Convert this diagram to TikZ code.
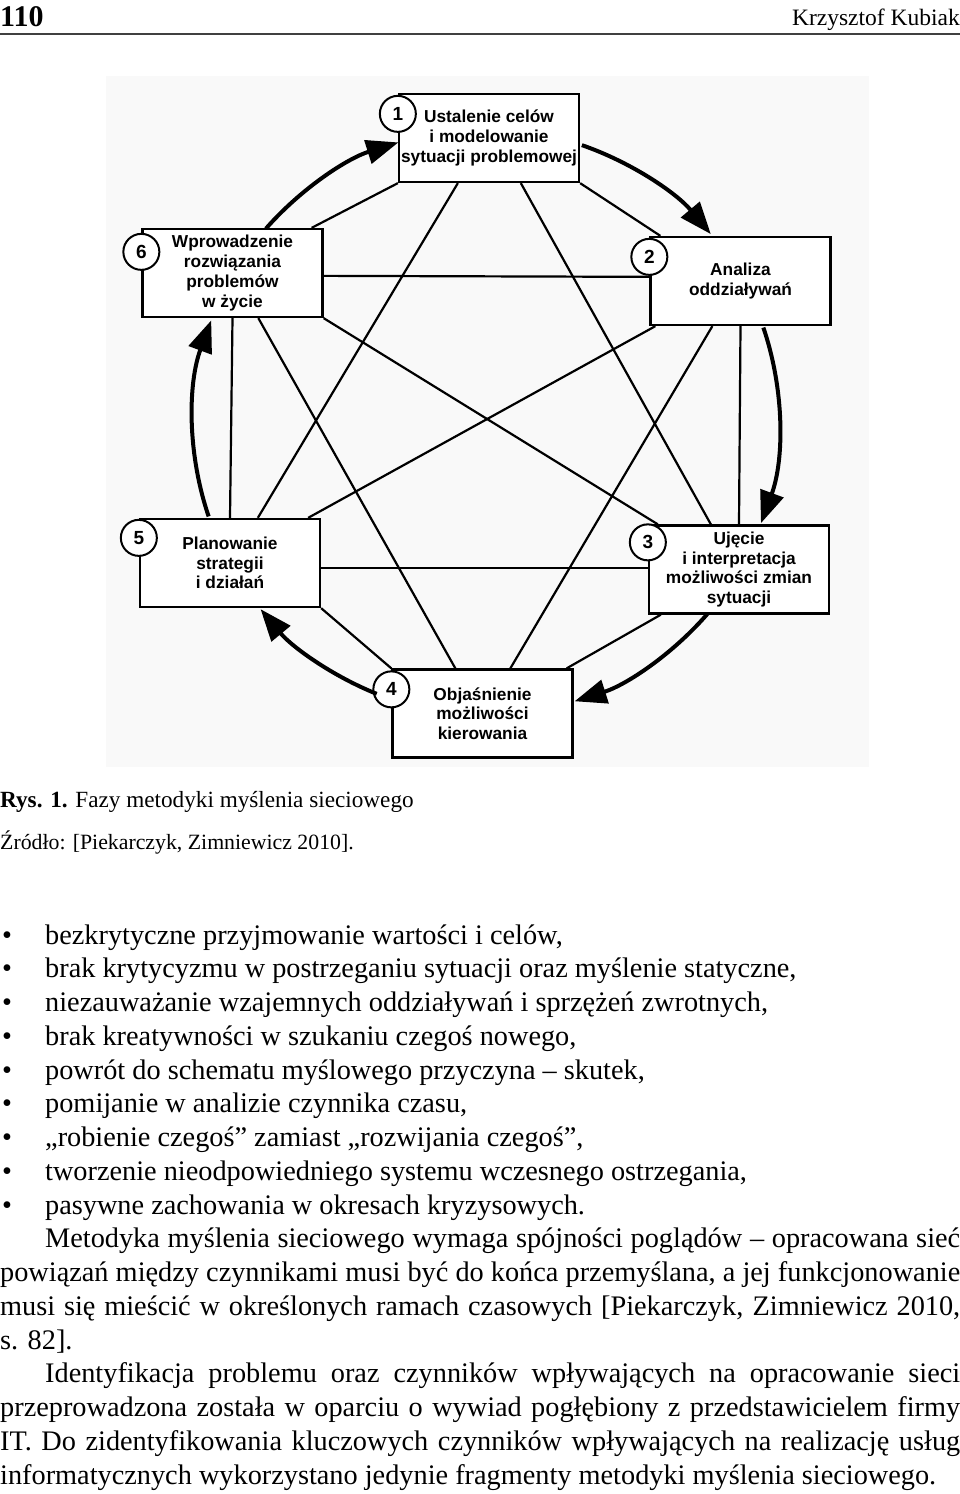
\documentclass[tikz,border=0pt]{standalone}
\usepackage{fontspec}
\setmainfont{Liberation Serif}
\newfontfamily\arialf{Liberation Sans}
\usetikzlibrary{arrows.meta,calc}
\newcommand\bitem[1]{\noindent\makebox[45pt][l]{\hspace{2pt}\textbullet}#1\par}
\begin{document}
\begin{tikzpicture}[x=1pt,y=-1pt,
  box/.style={draw, line width=2.3pt, fill=white, minimum width=180pt, minimum height=88pt, inner sep=0pt, align=center, font=\arialf\bfseries\fontsize{17.3}{19.7}\selectfont},
  num/.style={circle, draw, line width=2pt, fill=white, minimum size=36pt, inner sep=0pt, font=\arialf\bfseries\fontsize{19}{19}\selectfont},
  link/.style={line width=2.2pt},
  cyc/.style={line width=4pt, -{Triangle[length=32pt,width=24pt]}},
  txt/.style={anchor=base west, inner sep=0pt}
]
\useasboundingbox (0,0) rectangle (960,1494);
\fill[gray!5] (106,76) rectangle (869,767);
% header
\node[txt, font=\bfseries\fontsize{30}{30}\selectfont] (pg) at (0,26) {110};
\node[anchor=base east, inner sep=0pt, font=\fontsize{23.5}{26}\selectfont] (au) at (960,25) {Krzysztof Kubiak};
\coordinate (rl) at (0,33.5); \coordinate (rr) at (960,33.5);
\draw[line width=2pt, black!75] (rl) -- (rr);
% boxes
\node[box] (b1) at (489,138) {Ustalenie celów\\ i modelowanie\\ sytuacji problemowej};
\node[box] (b2) at (740.5,281) {Analiza\\ oddziaływań};
\node[box] (b3) at (739,569.5) {Ujęcie\\ i interpretacja\\ możliwości zmian\\ sytuacji};
\node[box] (b4) at (482.5,713.5) {Objaśnienie\\ możliwości\\ kierowania};
\node[box] (b5) at (230,563) {Planowanie\\ strategii\\ i działań};
\node[box] (b6) at (232.5,273) {Wprowadzenie\\ rozwiązania\\ problemów\\ w życie};
% network links
\draw[link] (b1.south west) -- ($(b6.north east)+(-12,0)$);
\draw[link] (b1.south east) -- ($(b2.north west)+(11,0)$);
\draw[link] ($(b1.south west)+(60,0)$) -- ($(b5.north west)+(119,0)$);
\draw[link] ($(b1.south west)+(123,0)$) -- ($(b3.north west)+(63,0)$);
\draw[link] ($(b6.north east)+(0,48)$) -- ($(b2.north west)+(0,41)$);
\draw[link] (b6.south) -- (b5.north);
\draw[link] ($(b6.south west)+(117,0)$) -- ($(b4.north west)+(64,0)$);
\draw[link] (b6.south east) -- ($(b3.north west)+(10,0)$);
\draw[link] ($(b2.south west)+(6,0)$) -- ($(b5.north east)+(-13,0)$);
\draw[link] ($(b2.south west)+(63,0)$) -- ($(b4.north west)+(119,0)$);
\draw[link] (b2.south) -- (b3.north);
\draw[link] ($(b5.east)+(0,5)$) -- ($(b3.west)+(0,-1.5)$);
\draw[link] (b5.south east) -- (b4.north west);
\draw[link] ($(b3.south west)+(13,0)$) -- ($(b4.north east)+(-7,0)$);
% number circles
\node[num] (n1) at ($(b1.north west)+(0,21)$) {1};
\node[num] (n2) at ($(b2.north west)+(0,21)$) {2};
\node[num] (n3) at ($(b3.north west)+(0,18)$) {3};
\node[num] (n4) at ($(b4.north west)+(0,21)$) {4};
\node[num] (n5) at ($(b5.north west)+(0,20)$) {5};
\node[num] (n6) at ($(b6.north west)+(0,24)$) {6};
% cycle arrows
\coordinate (cen) at (486,422);
\coordinate (a61) at ($(cen)+(221.3:293)$);
\coordinate (a12) at ($(cen)+(289.1:293)$);
\coordinate (a23) at ($(cen)+(-18.8:293)$);
\coordinate (a34) at ($(cen)+(40.8:293)$);
\coordinate (a45) at ($(cen)+(111.9:293)$);
\coordinate (a56) at ($(cen)+(161.2:293)$);
\draw[cyc] (a61) arc[start angle=221.3, end angle=252.6, radius=293];
\draw[cyc] (a12) arc[start angle=289.1, end angle=320.1, radius=293];
\draw[cyc] (a23) arc[start angle=-18.8, end angle=20.2, radius=293];
\draw[cyc] (a34) arc[start angle=40.8, end angle=72.4, radius=293];
\draw[cyc] (a45) arc[start angle=111.9, end angle=140.3, radius=293];
\draw[cyc] (a56) arc[start angle=161.2, end angle=200.3, radius=293];
% caption
\node[txt, font=\fontsize{23.2}{27}\selectfont] (cap) at (0,807) {\textbf{Rys. 1.} Fazy metodyki myślenia sieciowego};
\node[txt, font=\fontsize{21.8}{27}\selectfont] (src) at (0,849) {Źródło: [Piekarczyk, Zimniewicz 2010].};
% body
\node[txt] (body) at (0,944) {\begin{minipage}[t]{960pt}\fontsize{28.3}{33.75}\selectfont
\parindent=45pt\parskip=0pt\tolerance=10000\hfuzz=30pt
\bitem{bezkrytyczne przyjmowanie wartości i celów,}
\bitem{brak krytycyzmu w postrzeganiu sytuacji oraz myślenie statyczne,}
\bitem{niezauważanie wzajemnych oddziaływań i sprzężeń zwrotnych,}
\bitem{brak kreatywności w szukaniu czegoś nowego,}
\bitem{powrót do schematu myślowego przyczyna – skutek,}
\bitem{pomijanie w analizie czynnika czasu,}
\bitem{„robienie czegoś” zamiast „rozwijania czegoś”,}
\bitem{tworzenie nieodpowiedniego systemu wczesnego ostrzegania,}
\bitem{pasywne zachowania w okresach kryzysowych.}
Metodyka myślenia sieciowego wymaga spójności poglądów – opracowana sieć\linebreak
powiązań między czynnikami musi być do końca przemyślana, a jej funkcjonowanie\linebreak
musi się mieścić w określonych ramach czasowych [Piekarczyk, Zimniewicz 2010,\linebreak
s. 82].\par
Identyfikacja problemu oraz czynników wpływających na opracowanie sieci\linebreak
przeprowadzona została w oparciu o wywiad pogłębiony z przedstawicielem firmy\linebreak
IT. Do zidentyfikowania kluczowych czynników wpływających na realizację usług\linebreak
informatycznych wykorzystano jedynie fragmenty metodyki myślenia sieciowego.\par
\end{minipage}};
\end{tikzpicture}
\end{document}
